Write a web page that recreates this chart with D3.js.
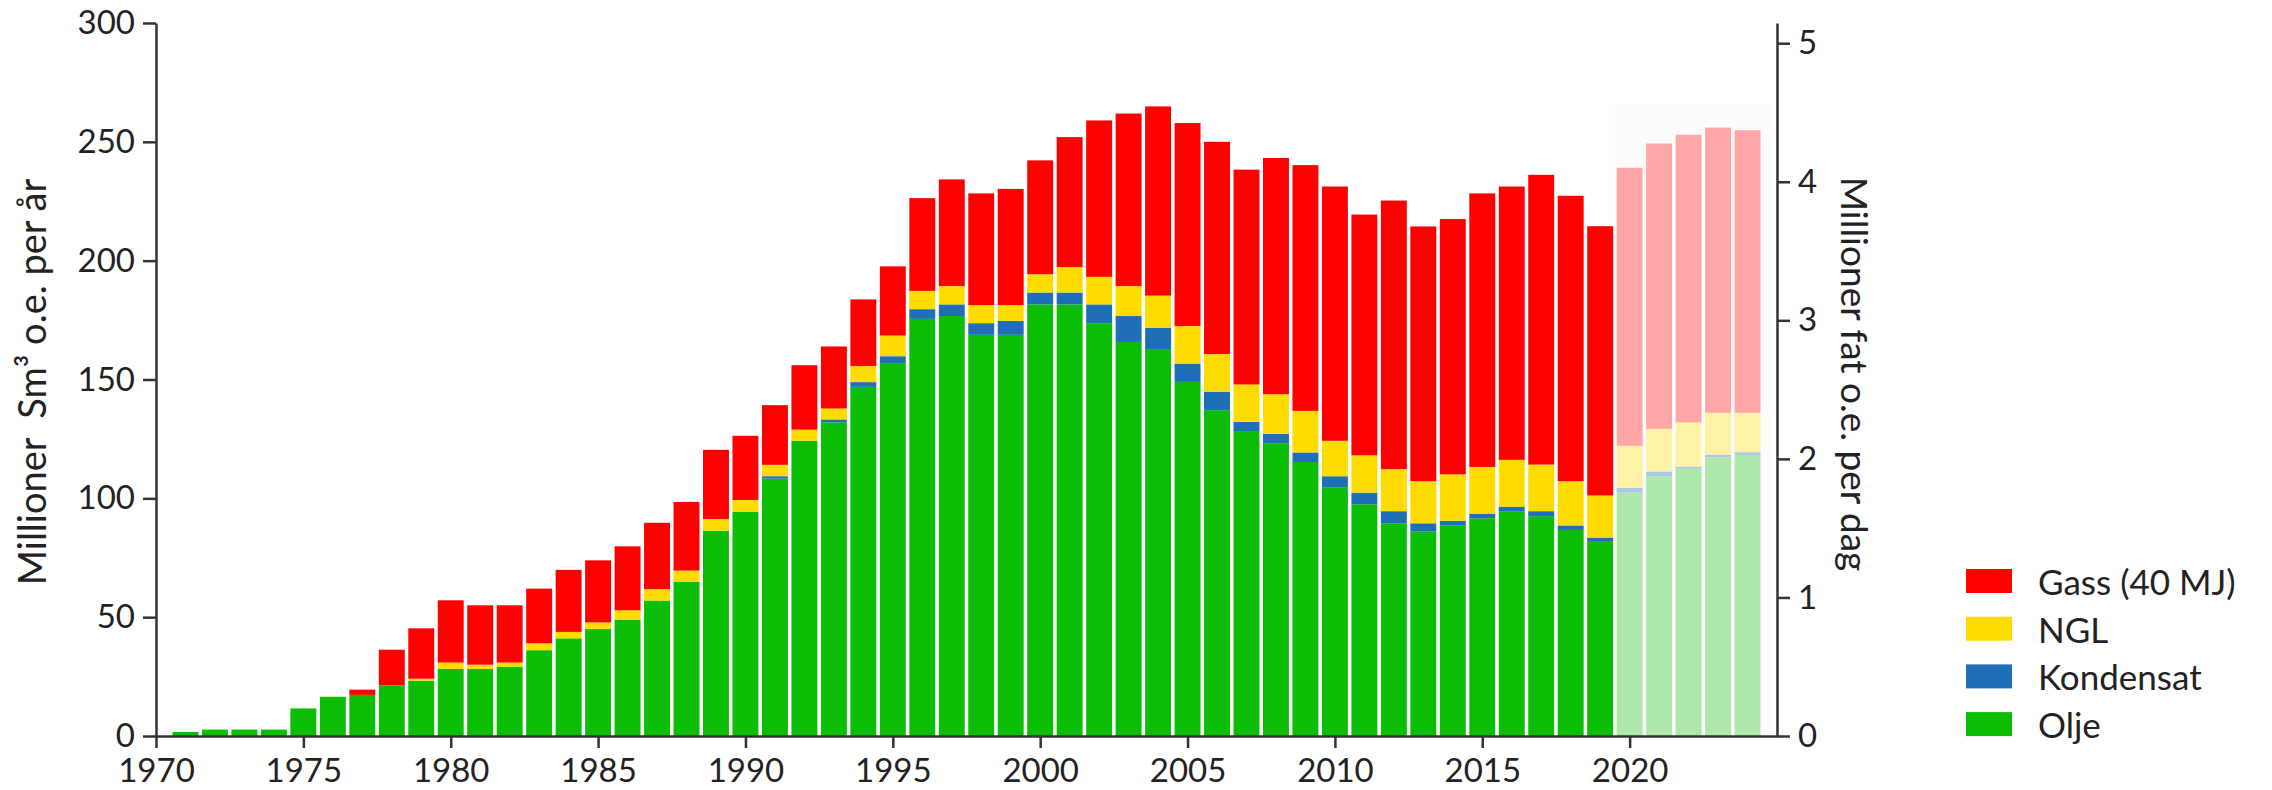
<!DOCTYPE html>
<html>
<head>
<meta charset="utf-8">
<script src="https://cdn.jsdelivr.net/npm/d3@7"></script>
<style>
  body { margin: 0; background: #fff; }
  text { font-family: Lato, "Open Sans", sans-serif; fill: #222; }
</style>
</head>
<body>
<svg id="chart" width="2272" height="790"></svg>
<script>
// production per year, million Sm3 o.e.
const years = [1971, 1972, 1973, 1974, 1975, 1976, 1977, 1978, 1979, 1980,
  1981, 1982, 1983, 1984, 1985, 1986, 1987, 1988, 1989, 1990,
  1991, 1992, 1993, 1994, 1995, 1996, 1997, 1998, 1999, 2000,
  2001, 2002, 2003, 2004, 2005, 2006, 2007, 2008, 2009, 2010,
  2011, 2012, 2013, 2014, 2015, 2016, 2017, 2018, 2019, 2020,
  2021, 2022, 2023, 2024];

const olje = [1.7, 2.7, 2.7, 2.7, 11.6, 16.5, 17.3, 21.3, 23.3, 28.2,
  28.2, 29.2, 36.1, 41.1, 45.0, 49.0, 57.0, 64.8, 86.4, 94.4,
  108.3, 124.2, 132.0, 146.9, 156.9, 175.5, 176.7, 168.8, 168.8, 181.6,
  181.6, 173.7, 165.8, 162.8, 149.0, 137.1, 128.3, 123.2, 115.3, 104.7,
  97.5, 89.5, 86.0, 88.7, 91.6, 94.6, 92.5, 86.7, 81.7, 102.5,
  109.3, 112.5, 117.2, 118.3];

const kondensat = [0, 0, 0, 0, 0, 0, 0, 0, 0, 0,
  0, 0, 0, 0, 0, 0, 0, 0, 0, 0,
  1.0, 0, 1.2, 2.0, 2.9, 4.1, 4.9, 4.9, 5.9, 5.0,
  5.0, 7.9, 10.9, 9.0, 7.7, 7.8, 3.9, 3.9, 4.0, 4.6,
  4.9, 5.1, 3.5, 1.9, 1.8, 1.9, 2.1, 1.9, 1.8, 1.9,
  2.0, 0.9, 1.1, 1.1];

const ngl = [0, 0, 0, 0, 0, 0, 0, 0, 0.8, 2.7,
  1.8, 1.7, 2.9, 2.7, 2.8, 3.9, 4.8, 4.8, 4.9, 4.9,
  4.8, 4.7, 4.6, 6.8, 8.7, 7.7, 7.7, 7.6, 6.6, 7.7,
  10.7, 11.6, 12.6, 13.5, 15.8, 15.8, 15.7, 16.7, 17.5, 14.9,
  15.7, 17.7, 17.7, 19.5, 19.8, 19.7, 19.6, 18.6, 17.7, 17.7,
  17.9, 18.6, 17.7, 16.6];

const gass = [0, 0, 0, 0, 0, 0, 2.2, 15.0, 21.2, 26.2,
  25.0, 24.1, 23.0, 26.1, 26.1, 26.9, 27.9, 28.9, 29.1, 27.0,
  25.1, 27.1, 26.1, 28.0, 29.1, 39.0, 44.9, 47.0, 48.9, 47.9,
  54.7, 65.8, 72.6, 79.6, 85.4, 89.3, 90.4, 99.4, 103.4, 107.0,
  101.3, 113.0, 107.2, 107.4, 115.1, 115.0, 121.9, 120.1, 113.3, 117.0,
  120.1, 121.0, 120.0, 118.9];

const forecastYears = [2020, 2021, 2022, 2023, 2024];

const keys = ["olje", "kondensat", "ngl", "gass"];
const legendNames = ["Olje", "Kondensat", "NGL", "Gass (40 MJ)"];
const colors = ["#0cbd06", "#1f6fb7", "#ffdc00", "#ff0000"];
const lightColors = ["#aee8a8", "#aac7e6", "#fff1a6", "#ffa7a7"];

const xTicks = [1970, 1975, 1980, 1985, 1990, 1995, 2000, 2005, 2010, 2015, 2020];
const leftTicks = [0, 50, 100, 150, 200, 250, 300];
const rightTicks = [0, 1, 2, 3, 4, 5];

// 1 million barrels per day = 58.3 million Sm3 per year
const sm3PerBarrelDay = 58.3;

const rows = years.map((yr, i) => ({
  year: yr,
  olje: olje[i],
  kondensat: kondensat[i],
  ngl: ngl[i],
  gass: gass[i]
}));

const svg = d3.select("#chart");

const x = d3.scaleLinear().domain([1970, 2025]).range([156, 1777]);
const y = d3.scaleLinear().domain([0, 300]).range([736, 23]);
const y2 = d3.scaleLinear().domain([0, 300 / sm3PerBarrelDay]).range([736, 23]);

const barW = (x(1971) - x(1970)) * 0.88;

// faint panel behind the forecast years
svg.append("rect")
  .attr("x", x(2019.5))
  .attr("y", y(266))
  .attr("width", x(2024.8) - x(2019.5))
  .attr("height", y(0) - y(266))
  .attr("fill", "#fcfcfc");

const stacked = d3.stack().keys(keys)(rows);

svg.append("g")
  .selectAll("g")
  .data(stacked)
  .join("g")
  .each(function(layer, k) {
    d3.select(this).selectAll("rect")
      .data(layer.filter(d => d[1] - d[0] > 0))
      .join("rect")
      .attr("x", d => x(d.data.year) - barW / 2)
      .attr("width", barW)
      .attr("y", d => y(d[1]))
      .attr("height", d => y(d[0]) - y(d[1]))
      .attr("fill", d => forecastYears.includes(d.data.year) ? lightColors[k] : colors[k]);
  });

// axes
const axisColor = "#333";

const xAxis = svg.append("g")
  .attr("transform", "translate(0," + y(0) + ")")
  .call(d3.axisBottom(x).tickValues(xTicks).tickFormat(d3.format("d"))
    .tickSize(12).tickSizeOuter(0).tickPadding(11));

const yAxis = svg.append("g")
  .attr("transform", "translate(" + x(1970) + ",0)")
  .call(d3.axisLeft(y).tickValues(leftTicks).tickSize(13).tickSizeOuter(0).tickPadding(8));

const y2Axis = svg.append("g")
  .attr("transform", "translate(" + x(2025) + ",0)")
  .call(d3.axisRight(y2).tickValues(rightTicks).tickFormat(d3.format("d"))
    .tickSize(13).tickSizeOuter(0).tickPadding(8));

[xAxis, yAxis, y2Axis].forEach(g => {
  g.attr("color", axisColor)
    .attr("font-family", "Lato, sans-serif")
    .attr("font-size", 33);
  g.selectAll("path, line").attr("stroke-width", 2.5);
  g.selectAll("text").attr("fill", "#222");
});

// axis titles
svg.append("text")
  .attr("transform", "translate(46,382) rotate(-90)")
  .attr("text-anchor", "middle")
  .attr("font-size", 38)
  .text("Millioner\u00a0 Sm³ o.e. per år");

svg.append("text")
  .attr("transform", "translate(1841,374) rotate(90)")
  .attr("text-anchor", "middle")
  .attr("font-family", "'Open Sans', sans-serif")
  .attr("font-size", 37)
  .text("Millioner fat o.e. per dag");

// legend, gas on top
const legend = svg.append("g").attr("transform", "translate(1966,569)");
const legendOrder = [3, 2, 1, 0];

legendOrder.forEach((k, i) => {
  const row = legend.append("g").attr("transform", "translate(0," + i * 47.7 + ")");
  row.append("rect")
    .attr("width", 46)
    .attr("height", 24)
    .attr("fill", colors[k]);
  row.append("text")
    .attr("x", 72)
    .attr("y", 26)
    .attr("font-size", 35)
    .text(legendNames[k]);
});
</script>
</body>
</html>
